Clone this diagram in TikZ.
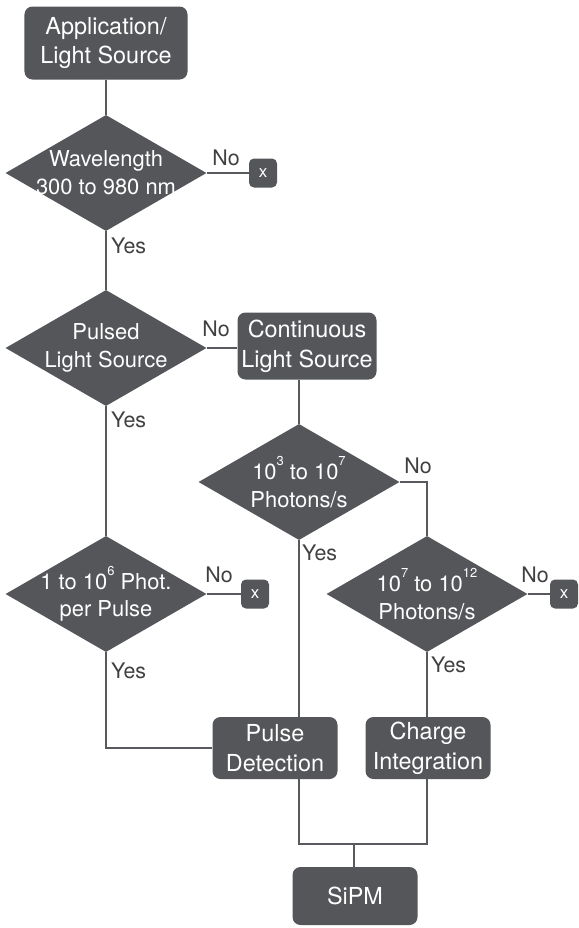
\documentclass[tikz,border=0pt]{standalone}
\usepackage{fontspec}
\setmainfont{TeX Gyre Heros}
\usetikzlibrary{shapes.geometric, calc}
\definecolor{boxgray}{RGB}{84,86,90}
\definecolor{linegray}{RGB}{88,89,93}
\definecolor{lblgray}{RGB}{64,64,66}
\newcommand{\supnum}[1]{\raisebox{0.62em}{\fontsize{13}{13}\selectfont #1}}

\begin{document}
\begin{tikzpicture}[x=1bp, y=-1bp,
	box/.style={rectangle, rounded corners=8bp, fill=boxgray, text=white, align=center,
		inner sep=0pt, font=\fontsize{23.5}{30}\selectfont},
	decision/.style={diamond, fill=boxgray, inner sep=0pt, minimum width=201bp, minimum height=116bp},
	dtext/.style={text=white, align=center, inner sep=0pt, font=\fontsize{22}{28}\selectfont},
	xbox/.style={rectangle, rounded corners=5bp, fill=boxgray, text=white, inner sep=0pt,
		minimum width=28bp, minimum height=29bp, font=\fontsize{17}{17}\selectfont},
	conn/.style={draw=linegray, line width=2bp},
	lbl/.style={inner sep=0pt, text=lblgray, font=\fontsize{21.5}{21.5}\selectfont}]
	\useasboundingbox (0,0) rectangle (579,928);
	% boxes and decisions
	\node[box, minimum width=163bp, minimum height=73bp] (app) at (106,43) {Application/\\Light Source};
	\node[decision, label={[dtext]center:{Wavelength\\300 to 980 nm}}] (wl) at (106,173) {};
	\node[xbox] (x1) at (263,173) {x};
	\node[decision, label={[dtext]center:{Pulsed\\Light Source}}] (pl) at (106,348) {};
	\node[box, minimum width=139bp, minimum height=67bp] (cont) at (307,346) {Continuous\\Light Source};
	\node[decision, label={[dtext]center:{10\supnum{3} to 10\supnum{7}\\Photons/s}}] (d3) at (299,482) {};
	\node[decision, label={[dtext]center:{10\supnum{7} to 10\supnum{12}\\Photons/s}}] (d4) at (427,594) {};
	\node[xbox] (x3) at (564,594) {x};
	\node[decision, label={[dtext]center:{1 to 10\supnum{6} Phot.\\per Pulse}}] (ph) at (106,594) {};
	\node[xbox] (x2) at (255,594) {x};
	\node[box, minimum width=125bp, minimum height=62bp] (pd) at (275,748) {Pulse\\Detection};
	\node[box, minimum width=125bp, minimum height=62bp] (cg) at (428,748) {Charge\\Integration};
	\node[box, minimum width=125bp, minimum height=58bp] (sipm) at (355,896) {SiPM};
	\coordinate (j) at (354,844);
	% connectors
	\draw[conn] (app.south) -- (wl.north);
	\draw[conn] (wl.east) -- (x1.west);
	\draw[conn] (wl.south) -- (pl.north);
	\draw[conn] (pl.east) -- (pl.east -| cont.west);
	\draw[conn] (d3.north) -- (d3.north |- cont.south);
	\draw[conn] (d3.east) -| (d4.north);
	\draw[conn] (d4.east) -- (x3.west);
	\draw[conn] (d3.south) -- (d3.south |- pd.north);
	\draw[conn] (d4.south) -- (d4.south |- cg.north);
	\draw[conn] (pl.south) -- (ph.north);
	\draw[conn] (ph.east) -- (x2.west);
	\draw[conn] (ph.south) |- (pd.west);
	\draw[conn] (d3.south |- pd.south) |- (j) -| (d4.south |- cg.south);
	\draw[conn] (j) -- (j |- sipm.north);
	% yes / no
	\node[lbl] (no1) at (226,158) {No};
	\node[lbl, anchor=west] (yes1) at (111,246) {Yes};
	\node[lbl] (no2) at (216,329) {No};
	\node[lbl, anchor=west] (yes2) at (111,420) {Yes};
	\node[lbl] (no3) at (418,466) {No};
	\node[lbl, anchor=west] (yes3) at (302,553) {Yes};
	\node[lbl] (no4) at (535,575) {No};
	\node[lbl, anchor=west] (yes4) at (431,665) {Yes};
	\node[lbl] (no5) at (219,575) {No};
	\node[lbl, anchor=west] (yes5) at (111,671) {Yes};
\end{tikzpicture}
\end{document}
